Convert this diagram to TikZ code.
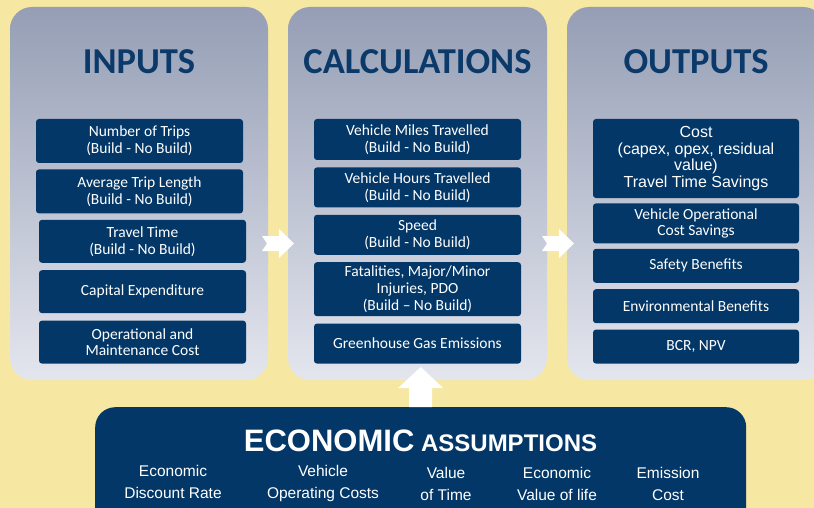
\documentclass[tikz,border=0pt]{standalone}
\usepackage{fontspec}
\setmainfont{Carlito}
\newfontfamily\arialfont{Liberation Sans}
\usetikzlibrary{positioning}
\definecolor{BcaNavy}{HTML}{033767}
\definecolor{BcaTitle}{HTML}{0B3A6A}
\definecolor{BcaSand}{HTML}{F6E7A2}
\definecolor{BcaPanelTop}{HTML}{959EB5}
\definecolor{BcaPanelBottom}{HTML}{E4E6EE}
\tikzset{
  panel/.style = {
    rounded corners=22pt,
    top color=BcaPanelTop,
    bottom color=BcaPanelBottom,
    minimum height=373pt,
    inner sep=0pt
  },
  stage title/.style = {
    font=\bfseries\fontsize{36.5}{40}\selectfont,
    text=BcaTitle,
    anchor=base,
    inner sep=0pt
  },
  item/.style = {
    fill=BcaNavy,
    text=white,
    rounded corners=3pt,
    minimum width=207pt,
    align=center,
    inner sep=1pt,
    font=\fontsize{15.5}{16.8}\selectfont
  },
  item arial/.style = {item, font=\arialfont\fontsize{16}{16.7}\selectfont},
  econ box/.style = {
    fill=BcaNavy,
    rounded corners=20pt,
    inner sep=0pt
  },
  econ label/.style = {
    font=\arialfont\fontsize{15.5}{22}\selectfont,
    text=white,
    align=center,
    anchor=north,
    inner sep=0pt
  },
  flow arrow/.style = {fill=white},
}
% notched block arrow between two stages
\newcommand{\StageArrow}[1]{%
  \begin{scope}[shift={#1}]
    \fill[flow arrow] (-16,-7.5) -- (-11,0) -- (-16,7.5) -- (1,7.5) -- (1,14.5)
      -- (16,0) -- (1,-14.5) -- (1,-7.5) -- cycle;
  \end{scope}}

\begin{document}
\begin{tikzpicture}[x=1pt,y=-1pt]
  \useasboundingbox (0,0) rectangle (814,508);
  \clip (0,0) rectangle (814,508);
  \fill[BcaSand] (0,0) rectangle (814,508);

  % three stages
  \node[panel, minimum width=258pt] (inputs) at (139,193.5) {};
  \node[panel, minimum width=259pt] (calc) at (417.5,193.5) {};
  \node[panel, minimum width=258pt] (outputs) at (696,193.5) {};

  \node[stage title] at ([yshift=-67pt]inputs.north) {INPUTS};
  \node[stage title] at ([yshift=-67pt]calc.north) {CALCULATIONS};
  \node[stage title] at ([yshift=-67pt]outputs.north) {OUTPUTS};

  % inputs
  \node[item, minimum height=44pt] (trips) at (139.5,141) {Number of Trips\\(Build - No Build)};
  \node[item, minimum height=44pt, below=6pt of trips] (triplen) {Average Trip Length\\(Build - No Build)};
  \node[item, minimum height=43pt, below=6pt of triplen, xshift=3pt] (ttime) {Travel Time\\(Build - No Build)};
  \node[item, minimum height=43pt, below=7pt of ttime] (capex) {Capital Expenditure};
  \node[item, minimum height=43pt, below=7pt of capex] (opex) {Operational and\\Maintenance Cost};

  % calculations
  \node[item, minimum height=41pt] (vmt) at (417.5,139.5) {Vehicle Miles Travelled\\(Build - No Build)};
  \node[item, minimum height=40pt, below=7pt of vmt] (vht) {Vehicle Hours Travelled\\(Build - No Build)};
  \node[item, minimum height=40pt, below=7pt of vht] (speed) {Speed\\(Build - No Build)};
  \node[item, minimum height=54pt, below=7pt of speed] (crash) {Fatalities, Major/Minor\\Injuries, PDO\\(Build -- No Build)};
  \node[item, minimum height=40pt, below=7pt of crash] (ghg) {Greenhouse Gas Emissions};

  % outputs
  \node[item arial, minimum width=206pt, minimum height=79pt] (cost) at (696,158.5)
    {Cost\\(capex, opex, residual\\value)\\Travel Time Savings};
  \node[item, minimum width=206pt, minimum height=40pt, below=5pt of cost] (vocs) {Vehicle Operational\\Cost Savings};
  \node[item, minimum width=206pt, minimum height=34pt, below=5pt of vocs] (safety) {Safety Benefits};
  \node[item, minimum width=206pt, minimum height=34pt, below=6pt of safety] (env) {Environmental Benefits};
  \node[item, minimum width=206pt, minimum height=34pt, below=6pt of env] (bcr) {BCR, NPV};

  \StageArrow{(278,243.5)}
  \StageArrow{(558,243.5)}

  % assumptions feeding the calculations
  \node[econ box, minimum width=651pt, minimum height=130pt, anchor=north west] (econ) at (95,407) {};
  \begin{scope}[shift={(econ.north)}]
    \fill[flow arrow] (-11.5,0) -- (-11.5,-19) -- (-22.5,-19) -- (0,-40)
      -- (22.5,-19) -- (11.5,-19) -- (11.5,0) -- cycle;
  \end{scope}
  \node[anchor=base, text=white, inner sep=0pt, font=\arialfont\bfseries\fontsize{24}{28}\selectfont]
    (econtitle) at (420.5,451) {{\fontsize{31}{34}\selectfont ECONOMIC} ASSUMPTIONS};
  \node[econ label] (rate) at (173,465) {Economic\\Discount Rate};
  \node[econ label] (voc) at (323,465) {Vehicle\\Operating Costs};
  \node[econ label] (vot) at (446,467) {Value\\of Time};
  \node[econ label] (vol) at (557,467) {Economic\\Value of life};
  \node[econ label] (emission) at (668,467) {Emission\\Cost};
\end{tikzpicture}
\end{document}
